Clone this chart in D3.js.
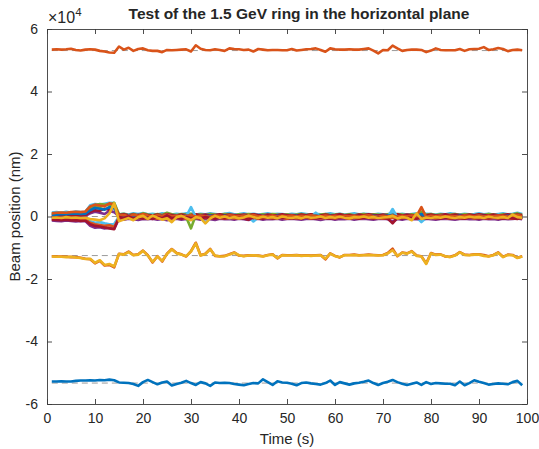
<!DOCTYPE html>
<html>
<head>
<meta charset="utf-8">
<script src="https://cdn.jsdelivr.net/npm/d3@7"></script>
<style>
  html, body { margin: 0; padding: 0; background: #fff; }
  svg text { font-family: "Liberation Sans", Arial, Helvetica, sans-serif; fill: #262626; }
</style>
</head>
<body>
<svg id="chart" width="539" height="449"></svg>
<script>
// Beam position readings, in units of 10^4 nm, sampled every second (t = 1..99)
const timeSeconds = d3.range(1, 100);

const bpmTop = [
  5.34, 5.35, 5.34, 5.35, 5.37, 5.33, 5.31, 5.34, 5.35, 5.34,
  5.30, 5.28, 5.25, 5.24, 5.44, 5.34, 5.40, 5.30, 5.36, 5.38,
  5.32, 5.30, 5.30, 5.26, 5.33, 5.32, 5.33, 5.34, 5.35, 5.28,
  5.48, 5.37, 5.33, 5.32, 5.35, 5.33, 5.30, 5.38, 5.36, 5.35,
  5.33, 5.34, 5.28, 5.36, 5.34, 5.32, 5.33, 5.33, 5.32, 5.32,
  5.36, 5.31, 5.33, 5.35, 5.36, 5.38, 5.33, 5.27, 5.38, 5.35,
  5.34, 5.34, 5.35, 5.34, 5.34, 5.36, 5.38, 5.31, 5.22, 5.33,
  5.32, 5.47, 5.38, 5.30, 5.33, 5.34, 5.34, 5.33, 5.26, 5.31,
  5.38, 5.33, 5.32, 5.32, 5.32, 5.36, 5.30, 5.35, 5.36, 5.37,
  5.42, 5.33, 5.35, 5.39, 5.36, 5.29, 5.33, 5.34, 5.32
];

const bpmBottom = [
  -5.28, -5.28, -5.27, -5.28, -5.28, -5.26, -5.25, -5.25, -5.24, -5.25,
  -5.23, -5.24, -5.22, -5.24, -5.31, -5.32, -5.33, -5.36, -5.42, -5.30,
  -5.23, -5.30, -5.37, -5.31, -5.28, -5.41, -5.36, -5.32, -5.26, -5.33,
  -5.39, -5.30, -5.34, -5.42, -5.31, -5.33, -5.32, -5.33, -5.36, -5.38,
  -5.40, -5.36, -5.33, -5.34, -5.21, -5.30, -5.39, -5.27, -5.31, -5.32,
  -5.35, -5.40, -5.33, -5.31, -5.34, -5.36, -5.38, -5.33, -5.25, -5.39,
  -5.30, -5.34, -5.38, -5.34, -5.32, -5.29, -5.25, -5.33, -5.39, -5.33,
  -5.29, -5.23, -5.30, -5.35, -5.39, -5.35, -5.31, -5.39, -5.30, -5.36,
  -5.33, -5.34, -5.35, -5.35, -5.40, -5.28, -5.40, -5.33, -5.24, -5.29,
  -5.33, -5.38, -5.36, -5.34, -5.35, -5.37, -5.30, -5.26, -5.40
];

const bpmMidA = [
  -1.27, -1.28, -1.28, -1.29, -1.30, -1.30, -1.32, -1.35, -1.37, -1.50,
  -1.42, -1.57, -1.55, -1.63, -1.19, -1.21, -1.12, -1.23, -1.21, -1.09,
  -1.24, -1.47, -1.27, -1.44, -1.19, -1.04, -1.17, -1.21, -1.28, -1.11,
  -0.84, -1.24, -1.19, -1.04, -1.26, -1.27, -1.26, -1.21, -1.15, -1.25,
  -1.26, -1.24, -1.25, -1.25, -1.27, -1.23, -1.21, -1.34, -1.23, -1.24,
  -1.24, -1.23, -1.25, -1.24, -1.25, -1.24, -1.23, -1.37, -1.18, -1.26,
  -1.31, -1.23, -1.23, -1.22, -1.24, -1.23, -1.22, -1.23, -1.24, -1.23,
  -1.17, -1.03, -1.27, -1.15, -1.18, -1.11, -1.25, -1.27, -1.50, -1.17,
  -1.22, -1.21, -1.28, -1.29, -1.24, -1.14, -1.22, -1.23, -1.21, -1.21,
  -1.23, -1.27, -1.23, -1.15, -1.29, -1.22, -1.23, -1.32, -1.27
];

const bpmMidB = [
  -1.28, -1.29, -1.29, -1.30, -1.29, -1.31, -1.33, -1.36, -1.35, -1.48,
  -1.40, -1.55, -1.52, -1.60, -1.20, -1.22, -1.14, -1.24, -1.22, -1.10,
  -1.25, -1.45, -1.28, -1.42, -1.20, -1.05, -1.18, -1.22, -1.27, -1.12,
  -0.86, -1.25, -1.20, -1.05, -1.25, -1.28, -1.27, -1.22, -1.16, -1.24,
  -1.27, -1.25, -1.24, -1.26, -1.28, -1.24, -1.22, -1.33, -1.24, -1.25,
  -1.25, -1.24, -1.26, -1.25, -1.26, -1.25, -1.24, -1.35, -1.19, -1.27,
  -1.30, -1.24, -1.24, -1.23, -1.25, -1.24, -1.23, -1.24, -1.25, -1.24,
  -1.18, -1.08, -1.26, -1.16, -1.19, -1.12, -1.26, -1.28, -1.52, -1.18,
  -1.23, -1.22, -1.27, -1.30, -1.25, -1.15, -1.23, -1.24, -1.22, -1.22,
  -1.26, -1.28, -1.24, -1.16, -1.30, -1.23, -1.24, -1.33, -1.28
];

const bpmZero1 = [
  0.05, 0.06, 0.08, 0.07, 0.09, 0.10, 0.08, 0.09, 0.20, 0.28,
  0.25, 0.22, 0.30, 0.26, 0.02, 0.01, -0.02, 0.03, 0.00, 0.04,
  0.02, -0.03, 0.01, 0.03, -0.02, 0.00, 0.02, -0.01, 0.03, 0.01,
  -0.04, 0.02, 0.00, 0.03, 0.01, -0.02, 0.02, 0.00, 0.01, -0.01,
  0.02, 0.00, 0.01, -0.02, 0.03, 0.00, -0.01, 0.02, 0.00, 0.01,
  0.00, 0.02, -0.01, 0.01, 0.00, 0.03, 0.01, -0.01, 0.02, 0.00,
  0.01, -0.02, 0.00, 0.02, 0.01, 0.00, -0.01, 0.02, 0.00, 0.01,
  0.03, 0.05, -0.02, 0.00, 0.01, -0.01, 0.02, 0.08, 0.00, 0.01,
  0.00, 0.02, -0.01, 0.01, 0.00, 0.02, 0.01, -0.01, 0.00, 0.02,
  0.01, 0.00, -0.02, 0.01, 0.00, 0.02, 0.01, 0.03, 0.00
];

const bpmZero2 = [
  0.10, 0.12, 0.13, 0.12, 0.14, 0.15, 0.14, 0.16, 0.32, 0.38,
  0.35, 0.33, 0.42, 0.38, 0.03, 0.05, 0.00, 0.06, 0.02, 0.08,
  0.03, 0.00, 0.04, 0.02, 0.06, 0.01, 0.03, 0.00, 0.02, 0.04,
  0.00, 0.03, 0.01, -0.01, 0.03, 0.02, 0.00, 0.04, 0.02, 0.01,
  0.03, 0.01, 0.05, 0.00, 0.02, 0.01, 0.03, 0.00, 0.02, 0.01,
  0.03, 0.00, 0.02, 0.01, 0.04, 0.02, 0.00, 0.03, 0.01, 0.02,
  0.00, 0.02, 0.01, 0.03, 0.00, 0.02, 0.04, 0.01, 0.00, 0.02,
  0.01, 0.03, 0.00, 0.02, 0.01, 0.03, 0.02, 0.30, -0.02, 0.02,
  0.01, 0.03, 0.00, 0.02, 0.01, 0.00, 0.03, 0.02, 0.01, 0.03,
  0.00, 0.02, 0.01, 0.03, 0.02, 0.00, 0.02, 0.05, 0.01
];

const bpmZero3 = [
  -0.02, 0.00, -0.01, 0.01, 0.00, -0.02, 0.01, 0.02, 0.10, 0.15,
  0.12, 0.08, 0.18, 0.14, 0.00, -0.02, 0.03, -0.04, 0.06, -0.02,
  -0.05, 0.04, 0.00, -0.03, 0.08, -0.04, 0.02, -0.01, 0.03, -0.02,
  0.01, -0.03, 0.02, 0.00, -0.02, 0.03, -0.01, 0.02, 0.00, -0.03,
  0.01, -0.02, 0.03, 0.00, -0.01, 0.02, -0.02, 0.01, 0.00, -0.01,
  0.02, -0.01, 0.00, 0.03, -0.02, 0.01, 0.00, -0.02, 0.02, 0.00,
  -0.01, 0.02, 0.00, -0.02, 0.01, 0.03, -0.01, 0.00, 0.02, -0.02,
  0.00, -0.03, 0.02, 0.01, -0.02, 0.00, 0.03, -0.01, 0.02, 0.00,
  -0.02, 0.01, 0.03, 0.00, -0.01, 0.02, 0.00, -0.02, 0.01, 0.03,
  0.00, -0.02, 0.01, 0.02, -0.01, 0.00, 0.03, -0.01, 0.02
];

const bpmZero4 = [
  0.07, 0.08, 0.06, 0.09, 0.10, 0.08, 0.10, 0.12, 0.28, 0.33,
  0.30, 0.36, 0.38, 0.40, -0.04, 0.02, -0.03, 0.01, -0.05, 0.02,
  0.00, -0.02, 0.03, -0.04, 0.02, 0.01, -0.03, 0.00, -0.02, -0.38,
  0.05, -0.02, 0.01, 0.00, -0.03, 0.02, 0.00, -0.01, 0.02, 0.00,
  -0.02, 0.01, 0.00, 0.02, -0.01, 0.00, 0.01, -0.03, 0.00, 0.02,
  -0.01, 0.00, 0.02, -0.02, 0.01, 0.00, -0.01, 0.02, 0.00, -0.02,
  0.01, 0.00, -0.01, 0.02, 0.00, 0.01, -0.02, 0.00, 0.01, -0.01,
  0.02, 0.00, -0.03, 0.01, 0.00, 0.02, -0.01, -0.05, 0.01, 0.00,
  0.02, -0.01, 0.00, 0.01, -0.02, 0.00, 0.02, 0.01, -0.01, 0.00,
  0.02, 0.01, -0.01, 0.00, 0.02, -0.01, 0.00, 0.08, 0.01
];

const bpmZero5 = [
  -0.06, -0.07, -0.05, -0.08, -0.07, -0.09, -0.06, -0.08, -0.15, -0.20,
  -0.18, -0.22, -0.25, -0.24, 0.00, -0.03, 0.02, -0.02, 0.01, -0.06,
  -0.03, 0.02, -0.04, 0.00, -0.05, -0.02, 0.01, -0.03, 0.00, 0.30,
  -0.02, -0.05, -0.20, -0.06, -0.02, -0.04, 0.00, -0.05, -0.03, -0.02,
  -0.04, -0.01, -0.16, -0.03, -0.05, -0.01, -0.03, 0.00, -0.04, -0.02,
  -0.03, -0.05, 0.00, -0.02, -0.04, 0.12, -0.03, -0.05, -0.01, -0.03,
  -0.04, -0.01, -0.03, -0.05, 0.00, -0.02, -0.04, -0.01, -0.03, -0.05,
  -0.02, 0.24, -0.04, -0.01, -0.03, -0.05, -0.02, -0.18, -0.04, -0.02,
  -0.04, -0.01, -0.03, -0.05, -0.02, -0.04, 0.00, -0.03, -0.05, -0.02,
  -0.04, -0.01, -0.03, -0.05, -0.02, -0.04, -0.01, -0.06, -0.03
];

const bpmZero6 = [
  -0.10, -0.11, -0.12, -0.10, -0.13, -0.12, -0.14, -0.13, -0.25, -0.30,
  -0.32, -0.35, -0.38, -0.41, -0.02, -0.05, 0.00, -0.06, -0.03, -0.07,
  -0.04, -0.08, -0.02, -0.06, 0.04, -0.05, -0.03, -0.07, -0.02, -0.06,
  -0.03, -0.06, -0.02, -0.05, -0.07, -0.03, -0.06, -0.02, -0.05, -0.04,
  -0.06, -0.10, -0.03, -0.05, -0.07, -0.02, -0.06, -0.04, -0.05, -0.03,
  -0.06, -0.04, -0.07, -0.02, -0.05, -0.06, -0.03, -0.05, -0.07, -0.04,
  -0.05, -0.03, -0.06, -0.04, -0.07, -0.03, -0.05, -0.06, -0.02, -0.05,
  -0.07, -0.22, -0.04, -0.06, -0.03, -0.05, -0.07, -0.04, -0.06, -0.03,
  -0.05, -0.07, -0.03, -0.06, -0.04, -0.05, -0.07, -0.03, -0.05, -0.06,
  -0.04, -0.06, -0.03, -0.05, -0.07, -0.04, -0.06, -0.08, -0.04
];

const bpmZero7 = [
  -0.04, -0.03, -0.05, -0.02, -0.04, -0.03, -0.05, -0.04, -0.08, -0.10,
  -0.12, -0.06, 0.10, 0.42, -0.15, -0.10, -0.05, -0.12, -0.02, 0.02,
  -0.08, 0.03, -0.04, -0.10, -0.06, -0.18, -0.02, 0.02, -0.05, -0.12,
  -0.02, -0.05, -0.22, -0.06, 0.02, -0.04, 0.00, -0.05, -0.02, -0.06,
  -0.03, 0.03, -0.02, -0.05, -0.01, -0.04, -0.02, -0.06, 0.00, -0.03,
  -0.05, -0.02, -0.06, -0.01, -0.04, -0.03, 0.00, -0.05, -0.02, -0.04,
  -0.01, -0.04, -0.06, -0.02, -0.03, 0.00, -0.04, -0.02, -0.05, -0.03,
  -0.02, 0.02, -0.06, -0.02, -0.04, -0.12, 0.10, -0.08, -0.03, -0.05,
  -0.02, -0.04, 0.00, -0.03, -0.05, -0.02, -0.04, -0.01, -0.03, -0.02,
  -0.05, -0.01, -0.03, -0.04, -0.02, -0.05, 0.06, -0.02, -0.04
];

const bpmZero8 = [
  0.13, 0.14, 0.12, 0.15, 0.13, 0.16, 0.14, 0.15, 0.36, 0.40,
  0.38, 0.41, 0.44, 0.43, 0.07, 0.09, 0.06, 0.10, 0.08, 0.11,
  0.07, 0.09, 0.06, 0.10, 0.08, 0.06, 0.09, 0.07, 0.10, 0.08,
  0.06, 0.09, 0.07, 0.10, 0.08, 0.06, 0.09, 0.11, 0.07, 0.08,
  0.10, 0.07, 0.09, 0.06, 0.08, 0.10, 0.07, 0.09, 0.08, 0.06,
  0.09, 0.07, 0.10, 0.08, 0.06, 0.09, 0.07, 0.08, 0.10, 0.07,
  0.09, 0.06, 0.08, 0.10, 0.07, 0.09, 0.08, 0.06, 0.09, 0.07,
  0.08, 0.10, 0.07, 0.09, 0.06, 0.08, 0.10, 0.07, 0.09, 0.08,
  0.06, 0.09, 0.07, 0.10, 0.08, 0.06, 0.09, 0.07, 0.08, 0.10,
  0.07, 0.09, 0.06, 0.08, 0.10, 0.07, 0.09, 0.12, 0.08
];

const bpmZero9 = [
  0.03, 0.02, 0.04, 0.03, 0.05, 0.04, 0.03, 0.05, 0.15, 0.20,
  0.18, 0.25, 0.22, 0.30, 0.05, 0.07, 0.04, 0.06, 0.03, 0.07,
  0.05, 0.03, 0.06, 0.04, 0.07, 0.05, 0.03, 0.06, 0.04, 0.05,
  0.07, 0.04, 0.06, 0.03, 0.05, 0.07, 0.04, 0.06, 0.05, 0.03,
  0.06, 0.04, 0.07, 0.05, 0.03, 0.06, 0.04, 0.05, 0.07, 0.04,
  0.05, 0.03, 0.06, 0.04, 0.07, 0.05, 0.03, 0.06, 0.04, 0.05,
  0.07, 0.04, 0.05, 0.03, 0.06, 0.04, 0.07, 0.05, 0.03, 0.06,
  0.04, 0.05, 0.07, 0.03, 0.06, 0.04, 0.05, 0.07, 0.04, 0.06,
  0.03, 0.05, 0.07, 0.04, 0.06, 0.05, 0.03, 0.06, 0.04, 0.07,
  0.05, 0.03, 0.06, 0.04, 0.05, 0.07, 0.04, 0.06, 0.05
];

const bpmZero10 = [
  -0.13, -0.14, -0.15, -0.13, -0.14, -0.16, -0.14, -0.15, -0.30, -0.36,
  -0.34, -0.38, -0.36, -0.39, -0.08, -0.10, -0.07, -0.09, -0.11, -0.08,
  -0.09, -0.07, -0.10, -0.08, -0.12, -0.09, -0.07, -0.10, -0.08, -0.09,
  -0.07, -0.10, -0.08, -0.09, -0.11, -0.07, -0.09, -0.08, -0.10, -0.07,
  -0.09, -0.11, -0.08, -0.07, -0.10, -0.08, -0.09, -0.07, -0.10, -0.08,
  -0.07, -0.09, -0.10, -0.08, -0.07, -0.09, -0.11, -0.08, -0.07, -0.10,
  -0.08, -0.09, -0.07, -0.10, -0.08, -0.07, -0.09, -0.10, -0.08, -0.07,
  -0.09, -0.16, -0.08, -0.10, -0.07, -0.09, -0.08, -0.12, -0.07, -0.09,
  -0.10, -0.08, -0.07, -0.09, -0.10, -0.08, -0.07, -0.09, -0.08, -0.10,
  -0.07, -0.09, -0.08, -0.10, -0.07, -0.09, -0.08, -0.06, -0.09
];

const bpmZero11 = [
  0.09, 0.10, 0.11, 0.10, 0.12, 0.11, 0.12, 0.13, 0.30, 0.36,
  0.40, 0.38, 0.36, 0.44, 0.06, 0.09, 0.04, 0.08, 0.05, 0.10,
  0.06, 0.04, 0.08, 0.05, 0.12, 0.07, 0.05, 0.08, 0.06, 0.09,
  0.05, 0.07, 0.04, 0.08, 0.06, 0.05, 0.08, 0.06, 0.04, 0.07,
  0.05, 0.08, 0.06, 0.04, 0.07, 0.05, 0.08, 0.06, 0.05, 0.07,
  0.04, 0.06, 0.08, 0.05, 0.07, 0.04, 0.06, 0.08, 0.05, 0.06,
  0.08, 0.05, 0.07, 0.04, 0.06, 0.08, 0.05, 0.07, 0.06, 0.04,
  0.07, 0.05, 0.08, 0.06, 0.04, 0.07, 0.05, 0.16, 0.06, 0.08,
  0.05, 0.07, 0.04, 0.06, 0.08, 0.05, 0.07, 0.06, 0.04, 0.07,
  0.05, 0.08, 0.06, 0.04, 0.07, 0.05, 0.06, 0.10, 0.05
];

const bpmZero12 = [
  -0.08, -0.09, -0.07, -0.10, -0.09, -0.11, -0.09, -0.10, -0.20, -0.25,
  -0.27, -0.30, -0.28, -0.33, -0.04, -0.06, -0.03, -0.07, -0.05, -0.04,
  -0.06, -0.04, -0.07, -0.05, -0.03, -0.06, -0.04, -0.05, -0.07, -0.04,
  -0.05, -0.07, -0.04, -0.06, -0.03, -0.05, -0.07, -0.04, -0.06, -0.05,
  -0.03, -0.06, -0.04, -0.07, -0.05, -0.04, -0.06, -0.03, -0.05, -0.07,
  -0.04, -0.06, -0.05, -0.03, -0.07, -0.04, -0.06, -0.05, -0.04, -0.06,
  -0.03, -0.05, -0.07, -0.04, -0.06, -0.05, -0.03, -0.06, -0.04, -0.07,
  -0.05, -0.04, -0.06, -0.03, -0.05, -0.07, -0.04, -0.06, -0.05, -0.04,
  -0.06, -0.03, -0.05, -0.07, -0.04, -0.06, -0.05, -0.03, -0.06, -0.04,
  -0.05, -0.07, -0.04, -0.06, -0.03, -0.05, -0.07, -0.04, -0.06
];

// Nominal (reference) orbit offsets, shown as dashed lines
const referenceLevels = [5.31, 0, -1.25, -5.33];

// Axis ticks
const xTicks = [0, 10, 20, 30, 40, 50, 60, 70, 80, 90, 100];
const yTicks = [-6, -4, -2, 0, 2, 4, 6];
const yExponent = 4;

// Series in plotting order (later ones are drawn on top)
const seriesList = [
  { values: bpmBottom, color: "#0072BD" },
  { values: bpmTop,    color: "#D95319" },
  { values: bpmZero8,  color: "#4DBEEE" },
  { values: bpmZero11, color: "#77AC30" },
  { values: bpmZero10, color: "#7E2F8E" },
  { values: bpmZero3,  color: "#7E2F8E" },
  { values: bpmZero4,  color: "#77AC30" },
  { values: bpmZero9,  color: "#A2142F" },
  { values: bpmZero5,  color: "#4DBEEE" },
  { values: bpmZero1,  color: "#0072BD" },
  { values: bpmZero2,  color: "#D95319" },
  { values: bpmZero12, color: "#D95319" },
  { values: bpmZero6,  color: "#A2142F" },
  { values: bpmZero7,  color: "#EDB120" },
  { values: bpmMidA,   color: "#D95319" },
  { values: bpmMidB,   color: "#EDB120" }
];

const svg = d3.select("#chart");
const margin = { left: 47, right: 12, top: 29, bottom: 45 };
const W = 539, H = 449;
const plotW = W - margin.left - margin.right;
const plotH = H - margin.top - margin.bottom;

const x = d3.scaleLinear().domain([0, 100]).range([margin.left, margin.left + plotW]);
const y = d3.scaleLinear().domain([-6, 6]).range([margin.top + plotH, margin.top]);

const axisColor = "#3a3a3a";
const tickLen = 5;

// Plot clip
svg.append("defs").append("clipPath").attr("id", "plotClip")
  .append("rect").attr("x", margin.left).attr("y", margin.top)
  .attr("width", plotW).attr("height", plotH);

const plot = svg.append("g").attr("clip-path", "url(#plotClip)");

// Dashed nominal levels
plot.selectAll("line.ref").data(referenceLevels).enter().append("line")
  .attr("class", "ref")
  .attr("x1", x(1)).attr("x2", x(99))
  .attr("y1", d => y(d)).attr("y2", d => y(d))
  .attr("stroke", "#9a9a9a").attr("stroke-width", 1)
  .attr("stroke-dasharray", "6,4");

const line = d3.line()
  .x((d, i) => x(timeSeconds[i]))
  .y(d => y(d));

plot.selectAll("path.bpm").data(seriesList).enter().append("path")
  .attr("class", "bpm")
  .attr("d", d => line(d.values))
  .attr("fill", "none")
  .attr("stroke", d => d.color)
  .attr("stroke-width", 2.6)
  .attr("stroke-linejoin", "round");

// Axes (box with inward ticks on all four sides)
const fmt = v => String(v);   // plain hyphen-minus for negative labels
const bottomAxis = d3.axisBottom(x).tickValues(xTicks).tickSizeInner(-tickLen).tickSizeOuter(0).tickPadding(9).tickFormat(fmt);
const topAxis = d3.axisTop(x).tickValues(xTicks).tickSizeInner(-tickLen).tickSizeOuter(0).tickFormat("");
const leftAxis = d3.axisLeft(y).tickValues(yTicks).tickSizeInner(-tickLen).tickSizeOuter(0).tickPadding(9).tickFormat(fmt);
const rightAxis = d3.axisRight(y).tickValues(yTicks).tickSizeInner(-tickLen).tickSizeOuter(0).tickFormat("");

function styleAxis(g) {
  g.select(".domain").attr("stroke", axisColor).attr("stroke-width", 0.9);
  g.selectAll(".tick line").attr("stroke", axisColor).attr("stroke-width", 0.9);
  g.selectAll(".tick text").attr("fill", "#262626").style("font-size", "14px")
    .style("font-family", "'Liberation Sans', Arial, sans-serif");
}

svg.append("g").attr("transform", `translate(0,${margin.top + plotH})`).call(bottomAxis).call(styleAxis);
svg.append("g").attr("transform", `translate(0,${margin.top})`).call(topAxis).call(styleAxis);
svg.append("g").attr("transform", `translate(${margin.left},0)`).call(leftAxis).call(styleAxis);
svg.append("g").attr("transform", `translate(${margin.left + plotW},0)`).call(rightAxis).call(styleAxis);

// Exponent marker above the y axis
const expLabel = svg.append("text")
  .attr("x", margin.left + 1).attr("y", margin.top - 6)
  .attr("font-size", 16);
expLabel.append("tspan").attr("font-size", 16).text("\u00d710");
expLabel.append("tspan").attr("dy", -7).attr("font-size", 11.5).text(yExponent);

// Title
svg.append("text")
  .attr("x", margin.left + plotW / 2 + 12).attr("y", 19)
  .attr("text-anchor", "middle")
  .style("font-size", "15.5px").style("font-weight", "bold")
  .attr("fill", "#000")
  .text("Test of the 1.5 GeV ring in the horizontal plane");

// Axis labels
svg.append("text")
  .attr("x", margin.left + plotW / 2).attr("y", 444)
  .attr("text-anchor", "middle")
  .style("font-size", "15px")
  .text("Time (s)");

svg.append("text")
  .attr("transform", `translate(20,${margin.top + plotH / 2}) rotate(-90)`)
  .attr("text-anchor", "middle")
  .style("font-size", "15px")
  .text("Beam position (nm)");
</script>
</body>
</html>
